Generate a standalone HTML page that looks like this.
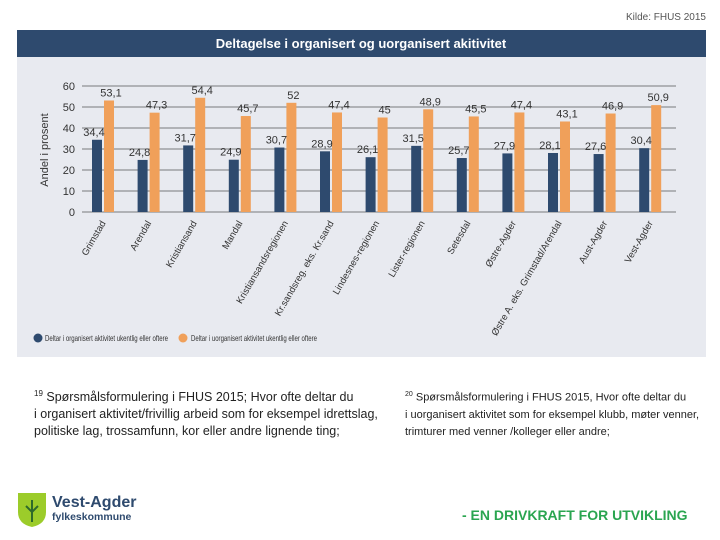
<!DOCTYPE html>
<html><head><meta charset="utf-8"><style>
body{margin:0;width:720px;height:540px;background:#fff;font-family:"Liberation Sans",sans-serif;position:relative;overflow:hidden}
.abs{position:absolute}
</style></head><body>
<div class="abs" style="right:14px;top:12px;font-size:10px;color:#555">Kilde: FHUS 2015</div>
<svg class="abs" style="left:0;top:0" width="720" height="370">
<rect x="17" y="30" width="689" height="27" fill="#2e4a6e"/>
<text x="361" y="48" text-anchor="middle" fill="#fff" font-size="13" font-weight="bold">Deltagelse i organisert og uorganisert akitivitet</text>
<rect x="17" y="57" width="689" height="300" fill="#e8eaf0"/>
<g id="grid"></g><g id="bars"></g><g id="xl"></g>
<text transform="translate(48,150) rotate(-90)" text-anchor="middle" font-size="11" fill="#333">Andel i prosent</text>
<circle cx="38" cy="338" r="4.5" fill="#2e4a6e"/>
<text x="45" y="341" font-size="8.5" textLength="123" lengthAdjust="spacingAndGlyphs" fill="#333">Deltar i organisert aktivitet ukentlig eller oftere</text>
<circle cx="183" cy="338" r="4.5" fill="#f0a05a"/>
<text x="191" y="341" font-size="8.5" textLength="126" lengthAdjust="spacingAndGlyphs" fill="#333">Deltar i uorganisert aktivitet ukentlig eller oftere</text>
</svg>
<div class="abs" style="left:34px;top:385px;font-size:12.5px;line-height:17px;color:#222;width:370px"><sup style="font-size:8px">19</sup> Spørsmålsformulering i FHUS 2015; Hvor ofte deltar du<br>i organisert aktivitet/frivillig arbeid som for eksempel idrettslag,<br>politiske lag, trossamfunn, kor eller andre lignende ting;</div>
<div class="abs" style="left:405px;top:386px;font-size:11px;line-height:17px;color:#222;width:315px"><sup style="font-size:7px">20</sup> Spørsmålsformulering i FHUS 2015, Hvor ofte deltar du<br>i uorganisert aktivitet som for eksempel klubb, møter venner,<br>trimturer med venner /kolleger eller andre;</div>
<svg class="abs" style="left:17px;top:492px" width="30" height="36"><path d="M1 1H29V20Q29 32 15 35Q1 32 1 20Z" fill="#9ccc2a"/><path d="M15 8V30M9 14L15 20L21 14" stroke="#2e6a2a" stroke-width="2" fill="none"/></svg>
<div class="abs" style="left:52px;top:494px;color:#2e4a6e;font-weight:bold"><div style="font-size:16px;line-height:17px">Vest-Agder</div><div style="font-size:10.5px;line-height:12px">fylkeskommune</div></div>
<div class="abs" style="left:462px;top:507px;color:#2aa550;font-weight:bold;font-size:14px">- EN DRIVKRAFT FOR UTVIKLING</div>
<script>
const categories=["Grimstad","Arendal","Kristiansand","Mandal","Kristiansandsregionen","Kr.sandsreg. eks. Kr.sand","Lindesnes-regionen","Lister-regionen","Setesdal","Østre-Agder","Østre A. eks. Grimstad/Arendal","Aust-Agder","Vest-Agder"];
const organised=[34.4,24.8,31.7,24.9,30.7,28.9,26.1,31.5,25.7,27.9,28.1,27.6,30.4];
const unorganised=[53.1,47.3,54.4,45.7,52,47.4,45,48.9,45.5,47.4,43.1,46.9,50.9];
const yTicks=[0,10,20,30,40,50,60];
const NS="http://www.w3.org/2000/svg";
const y=v=>212-v*2.1, xc=i=>103+i*45.6;
function mk(t,a,p){const e=document.createElementNS(NS,t);for(const k in a)e.setAttribute(k,a[k]);p.appendChild(e);return e;}
const g=document.getElementById('grid'),b=document.getElementById('bars'),xl=document.getElementById('xl');
yTicks.forEach(t=>{const l=mk('line',{x1:82,x2:676,y1:y(t),y2:y(t),stroke:'#555','stroke-width':0.8},g);


const tx=mk('text',{x:75,y:y(t)+4,'text-anchor':'end','font-size':11,fill:'#333'},g);tx.textContent=t;

});
categories.forEach((c,i)=>{
const r1=mk('rect',{x:xc(i)-11,y:y(organised[i]),width:10,height:organised[i]*2.1,fill:'#2e4a6e'},b);


const r2=mk('rect',{x:xc(i)+1,y:y(unorganised[i]),width:10,height:unorganised[i]*2.1,fill:'#f0a05a'},b);


const t1=mk('text',{x:xc(i)-9,y:y(organised[i])-4,'text-anchor':'middle','font-size':11,fill:'#333'},b);t1.textContent=String(organised[i]).replace('.',',');


const t2=mk('text',{x:xc(i)+8,y:y(unorganised[i])-4,'text-anchor':'middle','font-size':11,fill:'#333'},b);t2.textContent=String(unorganised[i]).replace('.',',');


const lx=xc(i)+3,ly=223;
const tl=mk('text',{x:lx,y:ly,'text-anchor':'end','font-size':9.5,fill:'#333',transform:`rotate(-60 ${lx} ${ly})`},xl);tl.textContent=c;


});
</script>
</body></html>
